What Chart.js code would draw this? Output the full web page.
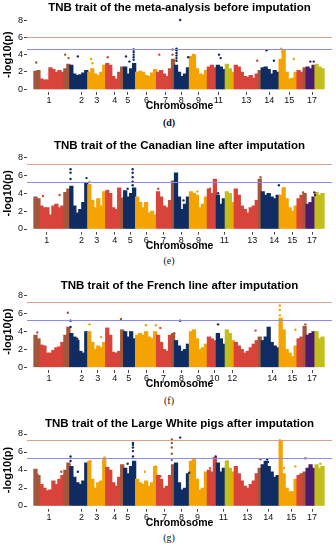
<!DOCTYPE html>
<html>
<head>
<meta charset="utf-8" />
<script src="https://cdn.jsdelivr.net/npm/chart.js@4.4.1/dist/chart.umd.min.js"></script>
<style>
  body{margin:0;background:#fff;}
  #fig{position:relative;width:336px;height:550px;overflow:hidden;}
  #fig canvas{position:absolute;left:0;}
  .cap{position:absolute;left:0;width:338px;text-align:center;font-family:'Liberation Serif','DejaVu Serif',serif;font-size:10px;line-height:10px;color:#111;}
</style>
</head>
<body>
<div id="fig">
  <canvas id="c0"></canvas>
  <canvas id="c1"></canvas>
  <canvas id="c2"></canvas>
  <canvas id="c3"></canvas>
  <div class="cap" style="top:118px;font-weight:bold">(d)</div>
  <div class="cap" style="top:256px">(e)</div>
  <div class="cap" style="top:396px">(f)</div>
  <div class="cap" style="top:533px">(g)</div>
</div>

<script>
// genome axis: cumulative position, chromosome colour blocks end at these positions
const SEG_END = [7.3, 30.7, 36.7, 54.7, 72.3, 86.7, 90.7, 102.3, 124, 137.3, 141.3, 157.3, 175,
                 182.3, 193.3, 198, 201.3, 226, 229.3, 246.3, 264, 270, 274, 282.3, 291];
const SEG_COL = ['brown','red','brown','navy','orange','red','brown','navy','orange','red','brown','navy','orange',
                 'red','navy','olive','orange','red','brown','navy','orange','red','brown','purple','olive'];
const BIN_W = 3;   // each bar = one 3-unit window, value = top of the point cloud there
const Y_TICKS = [0, 2, 4, 6, 8];

// (d) meta-analysis before imputation
const metaBins = [2.1,2.2,1.2,1.1,1.1,2.5,2.3,2.0,2.2,2.0,
                  2.4,2.9,2.8,1.8,1.6,1.7,1.9,2.2,2.0,2.4,
                  1.8,1.6,2.0,2.8,3.0,2.8,1.5,1.2,2.0,2.6,
                  2.6,1.8,2.4,3.0,2.0,2.1,2.0,1.6,1.5,1.9,
                  2.3,2.0,2.2,1.8,1.5,2.4,3.5,2.8,2.0,1.5,
                  1.8,2.5,3.8,4.0,2.4,1.8,1.7,2.2,2.6,2.8,
                  2.5,2.8,2.6,2.3,2.9,2.4,2.0,2.8,2.6,2.0,
                  1.5,1.4,1.6,1.3,1.8,2.2,2.5,2.6,2.3,1.8,
                  2.2,2.0,3.5,4.6,2.0,1.2,1.3,2.0,2.2,2.0,
                  2.5,2.6,2.4,2.8,2.9,2.6,2.4];
const metaDots = [[2.3,3.1],[31.3,4.0],[34.7,3.6],[44,3.8],[57.3,3.5],[58.7,3.0],[74,3.7],[92.3,3.8],
                  [95.7,3.2],[100,3.4],[100,3.7],[100,4.0],[100,4.3],[100,4.6],[125.7,4.0],[139,4.6],
                  [139,4.0],[143,3.3],[143,3.6],[143,3.9],[143,4.2],[143,4.5],[143,4.7],[146.7,8.0],
                  [154.7,3.7],[159.7,4.0],[185.7,4.0],[187.3,3.6],[224,3.3],[233.3,4.5],[240.7,3.3],
                  [248,4.7],[249,4.3],[260.7,3.5],[277.3,3.2],[280.7,3.2]];
const metaThr = [6.0, 4.7];
const metaTickPos = [15, 47.7, 63, 81, 94, 113, 132, 147.7, 165, 185, 213, 236, 256, 279];
const metaTickLab = ['1','2','3','4','5','6','7','8','9','11','13','14','15','17'];

// (e) Canadian line after imputation
const canBins = [3.6,3.4,2.6,2.4,2.4,1.6,2.6,2.8,2.4,2.6,
                 4.1,4.5,4.8,2.6,1.8,2.2,3.0,5.2,5.0,3.2,
                 2.4,3.4,2.6,4.2,4.3,4.0,2.4,2.2,4.6,3.5,
                 4.3,3.6,4.0,4.6,3.6,3.0,2.4,3.0,1.8,2.0,
                 1.6,4.2,3.6,2.6,2.4,3.2,5.4,6.3,3.6,2.2,
                 2.8,3.6,4.2,4.0,3.8,2.4,2.8,3.6,4.5,4.0,
                 5.6,3.8,2.8,3.4,4.2,4.0,3.0,4.5,3.8,2.6,
                 2.2,1.8,2.4,2.6,3.2,5.6,4.2,3.8,4.0,3.6,
                 3.4,3.8,3.8,4.6,3.4,2.4,2.0,2.6,3.4,3.8,
                 4.0,2.8,3.0,3.6,4.1,3.8,4.0];
const canDots = [[9,3.7],[25.7,3.8],[36.7,6.7],[36.7,6.3],[36.7,5.6],[52.7,5.7],[52.7,5.1],[55.7,5.3],
                 [74,4.3],[94,4.5],[99,6.7],[99,6.3],[99,5.8],[99,5.3],[99,4.9],[124.7,4.5],[150,3.2],
                 [164,4.2],[176.7,4.5],[184.7,4.0],[227.3,5.8],[245.7,4.9],[250.7,4.6],[270,4.1],
                 [281.3,4.1],[282,3.8]];
const canThr = [7.3, 5.3];
const canTickPos = [12.7, 47.7, 63, 81, 96.7, 112.7, 130, 147.7, 165, 191, 219, 241, 259, 279];
const canTickLab = ['1','2','3','4','5','6','7','8','9','11','13','14','15','17'];

// (f) French line after imputation
const freBins = [3.6,3.2,2.5,2.4,1.6,1.6,1.9,2.2,2.3,2.8,
                 3.6,4.5,3.8,3.4,3.0,1.8,1.6,4.0,4.0,2.8,
                 2.0,2.4,2.2,2.8,4.4,3.6,1.7,1.6,1.8,4.2,
                 4.0,3.4,4.0,3.2,3.6,3.8,3.6,4.0,3.4,3.2,
                 4.0,3.6,2.8,2.0,1.8,3.6,3.8,3.0,2.4,1.8,
                 2.0,2.6,4.0,4.2,3.2,2.0,2.2,2.6,3.4,3.2,
                 3.0,3.8,3.2,2.6,4.2,3.8,3.0,2.8,2.4,2.0,
                 1.6,1.8,2.2,2.6,3.0,3.4,3.0,3.4,4.5,2.8,
                 2.4,2.2,5.5,4.2,2.0,1.6,1.2,2.4,3.2,3.4,
                 4.6,3.6,3.8,4.0,4.0,3.2,3.4];
const freDots = [[3.3,3.9],[34,6.1],[36.7,5.2],[36.7,4.5],[43.3,3.2],[44,3.0],[55.7,4.8],[67.3,3.4],
                 [87.3,5.4],[112.3,4.7],[122.3,4.7],[126.7,4.4],[140.7,3.8],[146.7,5.2],[184.7,4.8],
                 [222.3,4.1],[246.7,6.9],[246.7,6.4],[246.7,5.8],[246.7,5.3],[246.7,4.7],[262.3,4.2],
                 [272.3,4.8]];
const freThr = [7.3, 5.3];
const freTickPos = [15, 48, 64, 81, 95, 113, 130, 148, 165, 181, 199, 239, 259, 279];
const freTickLab = ['1','2','3','4','5','6','7','8','9','10','12','14','15','17'];

// (g) Large White pigs after imputation
const lwBins = [4.1,3.4,2.4,2.0,1.7,1.8,2.8,2.4,3.0,3.4,
                4.0,4.8,4.4,3.2,2.6,2.4,2.8,4.8,5.0,3.0,
                2.0,2.6,2.8,5.2,4.3,4.0,2.6,2.2,3.2,4.6,
                4.2,3.6,4.4,5.0,3.0,2.6,2.4,2.8,2.2,2.6,
                4.4,3.4,3.0,2.0,2.2,3.4,4.6,4.8,2.6,1.8,
                2.0,3.6,5.0,5.3,3.0,1.8,2.0,3.8,4.0,3.8,
                5.4,4.8,3.8,4.2,5.0,4.2,3.8,4.4,3.6,2.8,
                2.2,2.0,2.4,2.8,3.6,4.2,4.6,5.0,4.4,3.8,
                3.2,3.4,7.2,3.6,2.0,1.6,1.6,3.0,3.4,3.6,
                3.8,4.2,4.6,4.2,4.6,4.2,4.4];
const lwDots = [[3.3,3.5],[27.3,3.8],[36.7,5.5],[36.7,5.0],[35.7,4.6],[44,3.8],[56.7,5.0],[70.7,5.4],
                [94,4.7],[99.3,7.0],[99.3,6.8],[99.3,6.5],[99.3,6.1],[99.3,5.5],[111.3,3.8],[122.3,4.4],
                [126.7,3.3],[138.3,7.4],[138.3,7.0],[138.3,6.5],[138.3,5.8],[138.3,5.1],[146.7,7.6],
                [155.7,3.7],[176.7,4.2],[182.3,5.5],[194,5.0],[227.3,5.2],[234,5.2],[234.7,4.9],
                [246.7,7.3],[246.7,6.8],[246.7,6.3],[250.7,4.2],[262.3,4.4],[272.3,5.3],[287.3,4.7]];
const lwThr = [7.3, 5.3];
const lwTickPos = [15, 47.7, 63, 81, 94, 113, 131, 148, 164, 190, 214, 235, 258, 279];
const lwTickLab = ['1','2','3','4','5','6','7','8','9','11','13','14','15','17'];

const PALETTE = { red:'#d8443a', brown:'#a2573b', navy:'#0f2d62', orange:'#f4a300', purple:'#4a1c6c', olive:'#c4be1c' };
const THR_COL = ['#d9a08a', '#8c8cec'];
const SANS = "'Liberation Sans', Arial, sans-serif";

function colorAt(u){
  for (let k = 0; k < SEG_END.length; k++) if (u < SEG_END[k]) return PALETTE[SEG_COL[k]];
  return PALETTE[SEG_COL[SEG_COL.length - 1]];
}

const hlines = {
  id: 'hlines',
  afterDatasetsDraw(chart, args, opts){
    const {ctx, chartArea: a, scales: {y}} = chart;
    ctx.save();
    ctx.lineWidth = 1;
    opts.values.forEach((v, k) => {
      const py = Math.round(y.getPixelForValue(v)) + 0.5;
      ctx.strokeStyle = THR_COL[k];
      ctx.beginPath(); ctx.moveTo(a.left, py); ctx.lineTo(a.right, py); ctx.stroke();
    });
    ctx.restore();
  }
};

const Y_MIN = -0.3, Y_MAX = 8.3, X_MIN = -7, X_MAX = 299;

const panels = [
  { id:'c0', title:'TNB trait of the meta-analysis before imputation', bins:metaBins, dots:metaDots, thr:metaThr, tp:metaTickPos, tl:metaTickLab, titleY:7.5, zeroY:89.3, unit:8.66 },
  { id:'c1', title:'TNB trait of the Canadian line after imputation', bins:canBins, dots:canDots, thr:canThr, tp:canTickPos, tl:canTickLab, titleY:146, zeroY:229, unit:8.93 },
  { id:'c2', title:'TNB trait of the French line after imputation', bins:freBins, dots:freDots, thr:freThr, tp:freTickPos, tl:freTickLab, titleY:286, zeroY:367.3, unit:8.95 },
  { id:'c3', title:'TNB trait of the Large White pigs after imputation', bins:lwBins, dots:lwDots, thr:lwThr, tp:lwTickPos, tl:lwTickLab, titleY:424, zeroY:506, unit:9.0 }
];

function makeChart(p){
  const top = Math.round(p.titleY - 5.75);
  const chartTop = p.zeroY - Y_MAX * p.unit;
  const chartBottom = p.zeroY - Y_MIN * p.unit;
  const h = Math.round(p.zeroY + 21.75 - top);
  const xAxisH = top + h - chartBottom;
  const cv = document.getElementById(p.id);
  cv.width = 336; cv.height = h;
  cv.style.width = '336px'; cv.style.height = h + 'px'; cv.style.top = top + 'px';

  new Chart(cv, {
    type: 'bar',
    data: {
      datasets: [
        { type:'scatter', data: p.dots.map(d => ({x:d[0], y:d[1]})),
          pointRadius:1.2, pointBorderWidth:0, pointBackgroundColor: p.dots.map(d => colorAt(d[0])) },
        { data: p.bins.map((v, i) => ({x:i*BIN_W + BIN_W/2, y:v})),
          backgroundColor: p.bins.map((v, i) => colorAt(i*BIN_W + BIN_W/2)),
          borderWidth:0, barThickness:3.6 }
      ]
    },
    options: {
      responsive:false, animation:false, devicePixelRatio:1,
      layout:{ padding:{ left:0, right:3, top:0, bottom:0 } },
      plugins:{
        legend:{ display:false }, tooltip:{ enabled:false },
        title:{ display:true, text:p.title, fullSize:false, color:'#000',
                font:{ family:SANS, size:11.5, weight:'bold', lineHeight:1 },
                padding:{ top:0, bottom: chartTop - top - 11.5 } },
        hlines:{ values:p.thr }
      },
      scales:{
        x:{ type:'linear', min:X_MIN, max:X_MAX, offset:false,
            afterBuildTicks: s => { s.ticks = p.tp.map(v => ({value:v})); },
            afterFit: s => { s.height = xAxisH; },
            grid:{ display:true, offset:false, drawOnChartArea:false, tickLength:3, color:'#444' },
            border:{ display:false },
            ticks:{ autoSkip:false, maxRotation:0, padding:1,
                    color:'#111', font:{ family:SANS, size:9, lineHeight:1 },
                    callback: (v, i) => p.tl[i] },
            title:{ display:true, text:'Chromosome', color:'#000', padding:0,
                    font:{ family:SANS, size:10.5, weight:'bold', lineHeight:1 } } },
        y:{ min:Y_MIN, max:Y_MAX,
            afterBuildTicks: s => { s.ticks = Y_TICKS.map(v => ({value:v})); },
            afterFit: s => { s.width = 27; },
            grid:{ drawOnChartArea:false, tickLength:3, color:'#444' },
            border:{ display:false },
            ticks:{ padding:1, color:'#111', font:{ family:SANS, size:9, lineHeight:1 } },
            title:{ display:true, text:'-log10(p)', color:'#000', padding:{ top:2.8, bottom:0 },
                    font:{ family:SANS, size:11, weight:'bold', lineHeight:1 } } }
      }
    },
    plugins:[hlines]
  });
}

panels.forEach(makeChart);
</script>
</body>
</html>
